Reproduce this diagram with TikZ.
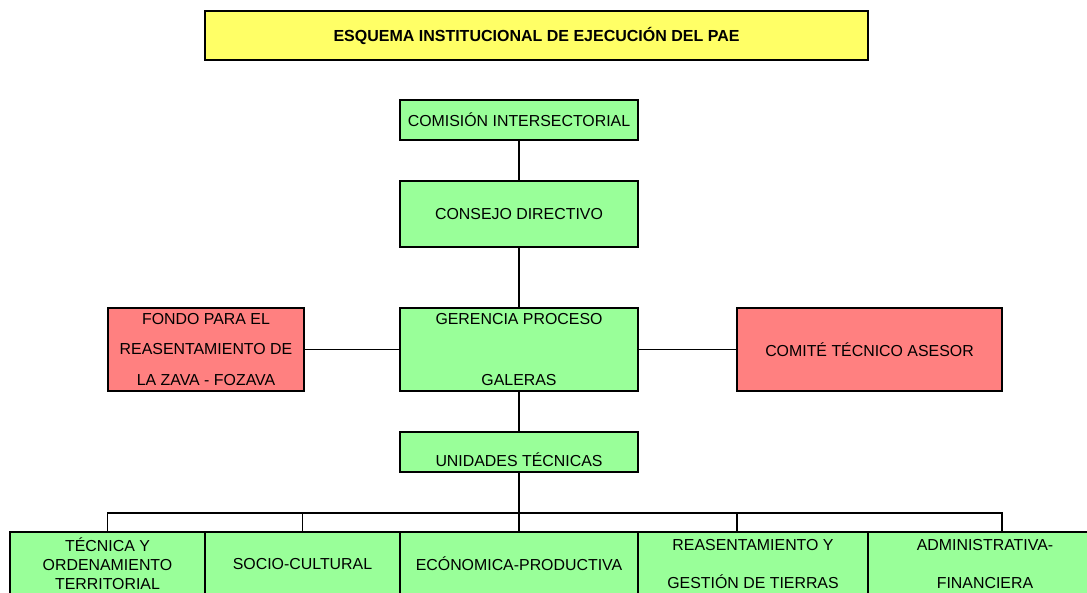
\documentclass[tikz,border=0pt]{standalone}
\usepackage{fontspec}
\setmainfont{Liberation Sans}
\newcommand\cellfont{\fontsize{15.9}{30.5}\selectfont}
\newcommand\rowfont{\fontsize{15.9}{19}\selectfont}
\definecolor{cellgreen}{HTML}{99FF99}
\definecolor{cellred}{HTML}{FF8080}
\definecolor{cellyellow}{HTML}{FFFF66}
\begin{document}
\begin{tikzpicture}[
    x=1pt,
    y=-1pt,
    unit/.style={
        draw=black,
        line width=2pt,
        fill=cellgreen,
        inner sep=0pt,
        align=center,
        font=\cellfont
    },
    advisor/.style={
        unit,
        fill=cellred
    },
    area/.style={
        unit,
        font=\rowfont,
        minimum height=64pt
    },
    titlebox/.style={
        unit,
        fill=cellyellow,
        font=\fontsize{16}{18}\selectfont\bfseries
    },
    link/.style={
        draw=black,
        line width=1.8pt
    }
]

% Horizontal positions
\def\MainX{519}
\def\RowY{564}

\clip (0,0) rectangle (1087,592);

% ==================================================
% Title
% ==================================================

\node[titlebox, minimum width=663pt, minimum height=49pt] (title)
    at (536.5,35.5)
    {ESQUEMA INSTITUCIONAL DE EJECUCIÓN DEL PAE};

% ==================================================
% Main column
% ==================================================

\node[unit, minimum width=238pt, minimum height=40pt] (comision)
    at (\MainX,120)
    {COMISIÓN INTERSECTORIAL};

\node[unit, minimum width=238pt, minimum height=66pt] (consejo)
    at (\MainX,214)
    {CONSEJO DIRECTIVO};

\node[unit, minimum width=238pt, minimum height=83pt] (gerencia)
    at (\MainX,349.5)
    {GERENCIA PROCESO\\[30.5pt]GALERAS};

% text sits low in this cell
\node[unit, minimum width=238pt, minimum height=40pt,
      text height=30pt, text depth=2pt, inner ysep=3pt] (unidades)
    at (\MainX,452)
    {UNIDADES TÉCNICAS};

% ==================================================
% Side boxes
% ==================================================

\node[advisor, minimum width=196pt, minimum height=83pt] (fondo)
    at (206,349.5)
    {FONDO PARA EL\\REASENTAMIENTO DE\\LA ZAVA - FOZAVA};

\node[advisor, minimum width=265pt, minimum height=83pt] (comite)
    at (869.5,349.5)
    {COMITÉ TÉCNICO ASESOR};

% ==================================================
% Technical units
% ==================================================

\node[area, minimum width=195pt] (tecnica)
    at (107.5,\RowY)
    {TÉCNICA Y\\ORDENAMIENTO\\TERRITORIAL};

\node[area, minimum width=195pt] (socio)
    at (302.5,\RowY)
    {SOCIO-CULTURAL};

\node[area, minimum width=238pt] (economica)
    at (\MainX,\RowY)
    {ECÓNOMICA-PRODUCTIVA};

\node[area, minimum width=230pt] (reasent)
    at (753,\RowY)
    {REASENTAMIENTO Y\\[19pt]GESTIÓN DE TIERRAS};

\node[area, minimum width=268pt, text width=230pt] (admin)
    at (1002,\RowY)
    {\hspace*{-34pt}ADMINISTRATIVA-\\[19pt]\hspace*{-34pt}FINANCIERA};

% ==================================================
% Connectors
% ==================================================

\coordinate (bus) at (\MainX,513);

\draw[link] (comision) -- (consejo);
\draw[link] (consejo) -- (gerencia);
\draw[link] (gerencia) -- (unidades);
\draw[link] (unidades) -- (economica);

\draw[link] (fondo) -- (gerencia);
\draw[link] (gerencia) -- (comite);

% bus to the technical units
\draw[link] (tecnica.north) |- (bus);
\draw[link] (admin.north) |- (bus);
\draw[link] (socio.north) -- (socio.north |- bus);
\draw[link] ([xshift=-16pt]reasent.north) -- ([xshift=-16pt]reasent.north |- bus);

\end{tikzpicture}
\end{document}
